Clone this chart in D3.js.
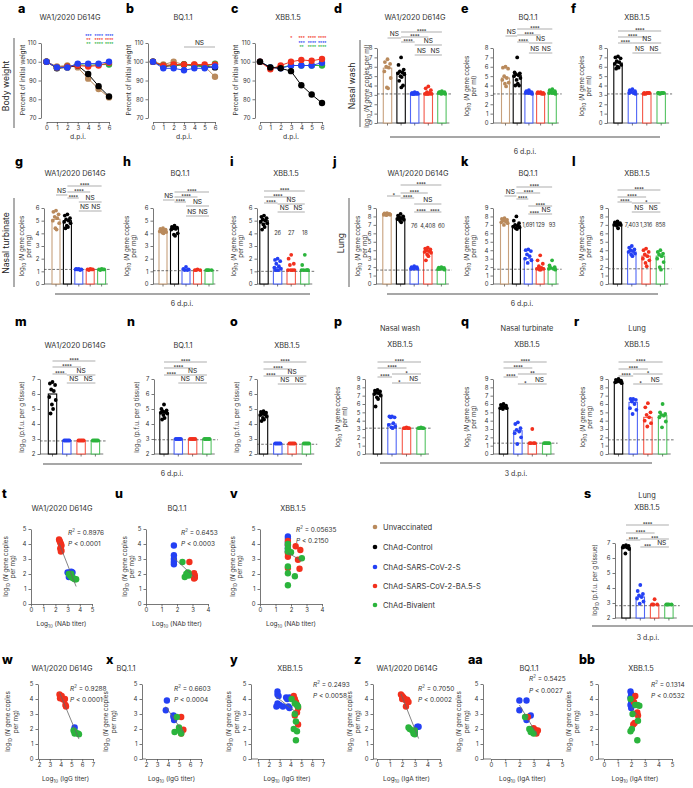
<!DOCTYPE html>
<html><head><meta charset="utf-8">
<script src="https://cdn.jsdelivr.net/npm/d3@7"></script>
<style>body{margin:0;background:#fff}svg{display:block}text{font-family:Inter,'DejaVu Sans',sans-serif}</style>
</head><body><svg id="c" width="693" height="788"></svg>
<script>
// ================= DATA =================
const groupNames = ['Unvaccinated','ChAd-Control','ChAd-SARS-CoV-2-S','ChAd-SARS-CoV-2-BA.5-S','ChAd-Bivalent'];
const groupColors = ['#b98a5c','#000000','#2440f4','#f2301d','#2bb43c'];
const days = [0,1,2,3,4,5,6];
const weightTicks = [70,80,90,100,110];

// body weight (% of initial), rows follow the group order given in *_groups
const weightA_groups = [0,1,4,3,2];
const weightA = [
  [100,97.5,98,97,91,85.5,81],
  [100,96.5,97,98,93.5,87,81.5],
  [100,97,97.5,98.5,98,98.5,98.5],
  [100,97,97.5,98,97.5,98,99.5],
  [100,97,97,99,99,99,100]
];
const weightB_groups = [0,1,4,3,2];
const weightB = [
  [100,98.5,100,98.5,98.5,97.5,92],
  [100,97.5,98,98.5,98,97.5,97],
  [100,98,98,98.5,98,97.5,99],
  [100,98,98.5,98.5,98.5,98.5,98.5],
  [100,96.5,96.5,95.5,96.5,96.5,97.5]
];
const weightC_groups = [4,2,3,1];
const weightC = [
  [100,97,97,98,98,98,98],
  [100,97,96.5,98,98,98,99.5],
  [100,96,98,100,101,100.5,101.5],
  [100,97,96.5,95,87.5,82.5,78]
];
const starsA_groups = [2,3,4];
const starsA = [['','','','','***','****','****'],['','','','','**','****','****'],['','','','','**','****','****']];
const starsC_groups = [3,2,4];
const starsC = [['','','','*','***','****','****'],['','','','','***','****','****'],['','','','','**','****','****']];

// bar + dot panels (log10 values)
const dMeans = [5.85,5.4,3.15,3.2,3.2];
const dPts = [[6.8,6.5,6.3,6.0,5.9,5.5,4.8,3.8,3.7],[7.0,6.2,5.7,5.5,5.4,5.3,5.2,5.0,4.9,4.5,4.0,3.8],[3.3,3.2,3.2,3.1,3.1,3.1,3.1,3.1,3.2,3.1],[3.9,3.7,3.5,3.3,3.2,3.1,3.1,3.1,3.1,3.1],[3.4,3.3,3.3,3.2,3.2,3.2,3.1,3.1,3.2,3.3]];
const dSig = [[0,1,'NS'],[1,4,'****'],[1,3,'****'],[1,2,'****'],[2,4,'NS'],[2,3,'NS'],[3,4,'NS']];
const eMeans = [4.8,5.1,3.3,3.2,3.3];
const ePts = [[6.0,5.9,5.8,5.0,4.8,4.6,4.3,4.2,3.9],[7.0,5.4,5.3,5.2,5.1,5.0,4.8,4.6,4.2,4.0,4.0],[3.5,3.4,3.3,3.3,3.2,3.2,3.1,3.2,3.3],[3.3,3.3,3.2,3.2,3.1,3.2,3.1],[3.6,3.5,3.4,3.3,3.2,3.2,3.1,3.2]];
const eSig = dSig;
const fMeans = [6.4,3.3,3.2,3.2];
const fPts = [[7.1,7.0,6.9,6.6,6.5,6.3,6.2,6.0,5.9,5.8],[3.6,3.5,3.4,3.3,3.2,3.2,3.1],[3.2,3.2,3.2,3.1,3.2,3.1],[3.2,3.2,3.2,3.1,3.2,3.2]];
const sig4 = [[0,3,'****'],[0,2,'****'],[0,1,'****'],[1,3,'NS'],[1,2,'NS'],[2,3,'NS']];

const gMeans = [5.1,5.0,1.15,1.15,1.15];
const gPts = [[5.8,5.7,5.5,5.3,5.2,5.0,4.8,4.4,4.3],[5.5,5.4,5.2,5.1,5.0,4.9,4.8,4.6,4.5,4.4],[1.2,1.2,1.15,1.15,1.1,1.15],[1.2,1.15,1.15,1.1,1.15],[1.2,1.15,1.15,1.1,1.15]];
const hMeans = [4.2,4.4,1.15,1.1,1.1];
const hPts = [[4.4,4.35,4.3,4.2,4.2,4.15,4.1,4.05,4.0],[4.6,4.5,4.45,4.4,4.35,4.3,4.0,3.9,3.8],[1.35,1.2,1.15,1.1,1.1],[1.15,1.1,1.1,1.1],[1.1,1.1,1.1,1.1]];
const iMeans = [5.0,1.3,1.1,1.1];
const iPts = [[5.4,5.3,5.2,5.1,5.0,4.9,4.8,4.7,4.5,4.3],[2.0,1.9,1.8,1.6,1.4,1.3,1.2,1.1,1.1,1.1],[2.3,2.0,1.6,1.5,1.1,1.1,1.1,1.1],[2.3,1.5,1.1,1.1,1.1,1.1,1.1]];
const iFold = ['26','27','18'];
const jMeans = [8.3,7.8,1.9,3.8,1.8];
const jPts = [[8.4,8.35,8.3,8.3,8.25,8.2,8.2,8.15],[8.3,8.1,8.0,7.9,7.8,7.7,7.6,7.5,7.3],[2.1,2.0,2.0,1.9,1.9,1.8,1.8,1.8],[4.3,4.2,4.1,4.0,3.9,3.8,3.7,3.5,3.3,2.8],[2.0,1.95,1.9,1.8,1.8,1.75,1.7]];
const jSig = [[0,1,'*'],[1,4,'****'],[1,3,'****'],[1,2,'****'],[2,4,'NS'],[2,3,'****'],[3,4,'****']];
const jFold = ['76','4,408','60'];
const kMeans = [7.4,6.9,3.0,1.9,1.9];
const kPts = [[7.8,7.7,7.6,7.5,7.4,7.3,7.2,7.0],[8.0,7.5,7.2,7.0,6.9,6.8,6.7,6.6,6.5],[4.1,4.0,3.9,3.5,3.3,3.0,2.8,2.5],[3.4,2.8,2.4,2.1,1.9,1.8,1.8,1.7,1.7],[2.8,2.2,2.0,1.9,1.8,1.8,1.7]];
const kSig = [[0,1,'NS'],[1,4,'****'],[1,3,'****'],[1,2,'****'],[2,4,'****'],[2,3,'****'],[3,4,'NS']];
const kFold = ['1,691','129','93'];
const lMeans = [7.1,3.8,3.3,3.3];
const lPts = [[7.4,7.3,7.2,7.1,7.1,7.0,7.0,6.9,6.6],[4.5,4.3,4.1,4.0,3.9,3.8,3.6,3.5,3.3],[4.2,4.0,3.8,3.5,3.3,3.0,2.8,2.5,2.1],[4.0,3.8,3.6,3.5,3.3,3.0,2.6,2.0,1.7]];
const lSig = [[0,3,'****'],[0,2,'****'],[0,1,'****'],[1,3,'*'],[1,2,'NS'],[2,3,'NS']];
const lFold = ['7,403','1,316','858'];

const mMeans = [6.0,2.9,2.9,2.9];
const mPts = [[6.8,6.7,6.6,6.3,6.2,5.8,5.6,5.3,5.0,4.7],[2.9,2.9,2.9,2.9,2.9],[2.9,2.9,2.9,2.9,2.9],[2.9,2.9,2.9,2.9,2.9]];
const nMeans = [4.75,3.0,3.0,3.0];
const nPts = [[5.3,5.0,4.9,4.85,4.8,4.75,4.7,4.6,4.4,4.3],[3.0,3.0,3.0,3.0,3.0],[3.0,3.0,3.0,3.0,3.0],[3.0,3.0,3.0,3.0,3.0]];
const oMeans = [4.6,2.7,2.7,2.7];
const oPts = [[4.85,4.8,4.75,4.7,4.65,4.6,4.5,4.4,4.3,4.2],[2.7,2.7,2.7,2.7,2.7],[2.7,2.7,2.7,2.7,2.7],[2.7,2.7,2.7,2.7,2.7]];
const pMeans = [7.2,3.6,3.1,3.1];
const pPts = [[7.7,7.6,7.5,7.4,7.3,7.2,7.0,6.8,6.6,5.7],[4.5,4.5,4.4,4.4,3.7,3.5,3.3,3.2,3.1],[3.2,3.1,3.1,3.1,3.1],[3.2,3.1,3.1,3.1,3.1]];
const pSig = [[0,3,'****'],[0,2,'****'],[0,1,'****'],[1,3,'*'],[1,2,'*'],[2,3,'NS']];
const qMeans = [5.6,2.8,1.3,1.3];
const qPts = [[6.0,5.9,5.8,5.7,5.6,5.5,5.5,5.4],[3.8,3.6,3.1,2.9,2.7,2.5,2.0,1.2],[3.0,1.3,1.3,1.3,1.3],[1.3,1.3,1.3,1.3,1.3]];
const qSig = [[0,3,'****'],[0,2,'****'],[0,1,'****'],[1,3,'**'],[1,2,'*'],[2,3,'NS']];
const rMeans = [8.7,6.2,4.4,4.6];
const rPts = [[9.0,8.9,8.8,8.7,8.7,8.6,8.5],[6.6,6.6,6.5,6.3,6.0,5.5,5.3,4.8],[6.1,5.6,5.0,4.7,4.4,4.0,3.7,3.3],[6.0,5.0,4.8,4.7,4.6,4.4,3.9,3.2]];
const rSig = [[0,3,'****'],[0,2,'****'],[0,1,'****'],[1,3,'*'],[1,2,'*'],[2,3,'NS']];
const sMeans = [6.7,3.4,2.9,2.9];
const sPts = [[6.85,6.8,6.8,6.75,6.7,6.7,6.6,6.3],[4.2,3.8,3.6,3.5,3.4,3.3,3.1,2.95],[3.25,2.9,2.9,2.9],[2.9,2.9,2.9,2.9]];
const sSig = [[0,3,'****'],[0,2,'****'],[0,1,'****'],[1,3,'***'],[1,2,'***'],[2,3,'NS']];

// correlation panels: [log10 titer, log10 N gene copies per mg]
const tBlue = [[3.0,2.1],[3.2,2.1],[3.3,2.15],[3.4,2.1],[3.1,1.8]];
const tRed = [[2.3,4.3],[2.35,4.2],[2.4,4.1],[2.45,4.0],[2.5,3.9],[2.4,3.7],[2.5,3.55],[2.45,3.5]];
const tGreen = [[3.1,2.0],[3.2,1.9],[3.3,1.8],[3.5,1.7],[3.6,1.65],[3.7,1.65],[3.4,1.75],[3.3,2.0]];
const uBlue = [[1.8,3.9],[1.8,3.25],[1.8,3.0],[1.8,2.8],[1.8,2.65]];
const uRed = [[2.8,2.8],[3.1,2.05],[3.15,1.9],[3.1,1.7],[3.15,1.75]];
const uGreen = [[2.35,2.8],[2.5,1.8],[2.6,2.0],[2.7,2.1],[2.75,1.9],[2.75,2.05]];
const vBlue = [[1.8,4.5],[1.8,4.35],[1.8,4.1],[1.8,3.9],[1.8,3.7],[1.8,3.5]];
const vRed = [[1.8,4.2],[1.8,3.95],[1.8,3.4],[1.8,3.15],[1.8,2.4],[2.3,3.85],[2.45,2.95],[2.6,3.6],[2.55,2.35]];
const vGreen = [[1.8,4.0],[1.8,3.7],[1.8,3.5],[1.8,2.5],[1.8,2.05],[1.8,1.25],[2.0,3.45],[2.25,1.85],[2.7,3.05]];
const wBlue = [[5.3,2.1],[5.25,1.95]];
const wRed = [[3.9,4.3],[4.0,4.1],[4.1,4.2],[4.2,4.0],[4.3,3.95],[4.4,4.0],[4.45,3.6],[4.5,3.5],[3.95,4.05]];
const wGreen = [[5.2,1.9],[5.3,1.8],[5.3,1.7],[5.6,1.7],[5.7,1.65],[5.4,1.75]];
const xBlue = [[3.9,3.9],[3.8,3.25],[4.5,2.9],[4.55,2.6],[4.5,2.8]];
const xRed = [[5.2,2.8],[5.0,2.0],[5.4,1.95],[5.2,1.7]];
const xGreen = [[4.8,2.8],[4.6,1.8],[5.0,2.1],[5.1,1.85],[5.2,1.7]];
const yBlue = [[2.8,4.5],[2.8,4.3],[2.9,4.2],[3.6,4.1],[3.7,4.0],[3.9,4.1],[2.8,3.7],[3.0,3.6],[3.8,3.5],[3.9,3.4],[2.7,3.5],[3.3,3.5]];
const yRed = [[4.3,4.2],[4.4,4.0],[4.5,3.8],[4.6,3.6],[4.7,3.4],[4.6,3.1],[4.7,2.3],[4.4,2.9]];
const yGreen = [[4.1,4.0],[4.4,3.7],[4.6,3.6],[4.7,3.5],[4.4,3.0],[4.5,2.5],[4.3,2.0],[4.6,1.85],[4.5,1.25]];
const zBlue = [[3.2,2.15],[3.3,2.15],[3.0,1.8]];
const zRed = [[1.9,4.3],[2.0,4.2],[2.1,4.1],[2.2,4.0],[2.3,3.9],[2.4,3.95],[2.5,3.8],[2.3,3.5],[2.0,4.0]];
const zGreen = [[2.5,2.1],[2.6,2.0],[2.8,1.9],[2.9,1.7],[3.0,1.65],[3.0,1.9]];
const aaBlue = [[2.0,3.9],[2.5,3.9],[2.0,3.25],[2.5,2.6],[2.8,2.9]];
const aaRed = [[2.6,2.8],[3.0,2.05],[3.1,1.95],[3.2,1.7],[3.3,1.9]];
const aaGreen = [[2.4,2.8],[2.7,2.0],[2.8,1.8],[3.0,1.7],[2.8,1.9]];
const bbBlue = [[1.95,4.5],[2.0,4.3],[1.95,4.1],[2.0,3.8],[1.95,3.6],[2.0,3.4]];
const bbRed = [[2.3,4.2],[2.2,3.8],[2.45,3.1],[2.5,2.9],[2.25,2.4],[2.15,2.3]];
const bbGreen = [[1.95,4.0],[2.3,3.6],[2.45,3.6],[2.6,3.55],[2.1,3.0],[2.5,2.55],[2.05,2.0],[1.95,1.85],[2.45,1.25]];
const statsR2 = {t:'0.8976',u:'0.6453',v:'0.05635',w:'0.9288',x:'0.6603',y:'0.2493',z:'0.7050',aa:'0.5425',bb:'0.1314'};
const statsP = {t:'0.0001',u:'0.0003',v:'0.2150',w:'0.0001',x:'0.0004',y:'0.0058',z:'0.0002',aa:'0.0027',bb:'0.0532'};

// ================= DRAWING =================
const svg = d3.select('#c');
svg.append('rect').attr('width',693).attr('height',788).attr('fill','#fff');
const FONT = "Inter, 'DejaVu Sans', sans-serif";
const AX = '#555', TX = '#333', BR = '#8a8a8a';
const fmtInt = d3.format('d');

function rich(t, str, size) {
  const parts = str.split(/(_\{[^}]*\}|\^\{[^}]*\}|\*[^*]+\*)/).filter(s => s.length);
  let cur = 0;
  parts.forEach(s => {
    let txt = s, off = 0, fs = size, it = false;
    if (s.startsWith('_{')) { txt = s.slice(2,-1); off = size*0.3; fs = size*0.68; }
    else if (s.startsWith('^{')) { txt = s.slice(2,-1); off = -size*0.4; fs = size*0.68; }
    else if (s.startsWith('*') && s.length > 2) { txt = s.slice(1,-1); it = true; }
    const ts = t.append('tspan').text(txt).attr('font-size', fs);
    if (off !== cur) ts.attr('dy', off - cur);
    if (it) ts.attr('font-style','italic');
    cur = off;
  });
}
function label(x, y, str, o = {}) {
  const size = o.size || 7;
  const t = svg.append('text').attr('x', x).attr('y', y)
    .attr('text-anchor', o.anchor || 'middle')
    .attr('dominant-baseline', o.base || 'central')
    .attr('font-size', size).attr('fill', o.fill || TX);
  if (o.weight) t.attr('font-weight', o.weight);
  if (o.rot) t.attr('transform', `rotate(-90,${x},${y})`);
  rich(t, str, size);
  return t;
}
function letter(x, y, s) { label(x, y, s, {size:12.5, weight:800, anchor:'start', base:'alphabetic', fill:'#000'}); }
function hline(x1, x2, y, c = BR, w = 1.4) { svg.append('line').attr('x1',x1).attr('x2',x2).attr('y1',y).attr('y2',y).attr('stroke',c).attr('stroke-width',w); }
function vline(x, y1, y2, c = BR, w = 1.4) { svg.append('line').attr('x1',x).attr('x2',x).attr('y1',y1).attr('y2',y2).attr('stroke',c).attr('stroke-width',w); }
function styleAxis(g, fs = 6) {
  g.attr('font-family', FONT).attr('font-size', fs);
  g.select('.domain').attr('stroke', AX).attr('stroke-width', 0.8);
  g.selectAll('.tick line').attr('stroke', AX).attr('stroke-width', 0.8);
  g.selectAll('.tick text').attr('fill', TX);
}
function ytitle(xs, cy, lines, size = 6.3) { lines.forEach((l, i) => label(xs[i], cy, l, {size, rot:true})); }

const jit = [0,-2.6,2.6,-1.3,1.3,-3.2,3.2,-0.6,0.6,-1.9,1.9,0.2];

function sigText(g, x, ly, s) {
  const star = s[0] === '*';
  g.append('text').attr('x', x).attr('y', star ? ly + 1 : ly - 1.6).attr('text-anchor','middle')
    .attr('font-size', star ? 5.4 : 6.6).attr('letter-spacing', star ? -0.35 : 0).attr('fill', '#222').text(s);
}

function barPanel(p, means, pts, sig, fold) {
  const n = p.groups.length;
  const y = d3.scaleLinear().domain(p.yDom).range([p.yBot, p.yTop]);
  const x = d3.scalePoint().domain(d3.range(n)).range([p.x0, p.x0 + p.step*(n-1)]);
  const bw = p.bw || 8.4;
  const g = svg.append('g');
  const ga = g.append('g').attr('transform', `translate(${p.axisX},0)`)
    .call(d3.axisLeft(y).tickValues(d3.range(p.yDom[0], p.yDom[1] + 0.01, 1)).tickSize(2.5).tickSizeOuter(0).tickPadding(2).tickFormat(fmtInt));
  styleAxis(ga);
  const xEnd = x(n-1) + p.step*0.55;
  g.append('line').attr('x1', p.axisX).attr('x2', xEnd).attr('y1', p.yBot).attr('y2', p.yBot).attr('stroke', AX).attr('stroke-width', 0.8);
  g.selectAll('line.xt').data(d3.range(n)).join('line').attr('class','xt')
    .attr('x1', i => x(i)).attr('x2', i => x(i)).attr('y1', p.yBot).attr('y2', p.yBot + 2.5)
    .attr('stroke', AX).attr('stroke-width', 0.8);
  g.selectAll('rect.bar').data(means).join('rect').attr('class','bar')
    .attr('x', (d,i) => x(i) - bw/2).attr('y', d => y(d)).attr('width', bw).attr('height', d => p.yBot - y(d))
    .attr('fill', '#fff').attr('stroke', (d,i) => groupColors[p.groups[i]]).attr('stroke-width', 1.1)
    .attr('stroke-opacity', (d,i) => p.groups[i] === 1 ? 1 : 0.8);
  g.append('line').attr('x1', p.axisX).attr('x2', xEnd + 3).attr('y1', y(p.lod)).attr('y2', y(p.lod))
    .attr('stroke', '#444').attr('stroke-width', 0.75).attr('stroke-dasharray', '2.6,1.6');
  pts.forEach((arr, i) => {
    g.selectAll(null).data(arr).join('circle')
      .attr('cx', (d,k) => x(i) + jit[k % jit.length]).attr('cy', d => y(d)).attr('r', 1.9)
      .attr('fill', groupColors[p.groups[i]]);
  });
  sig.forEach(([a, b, s], k) => {
    const ly = p.sigY[k];
    g.append('line').attr('x1', x(a)).attr('x2', x(b)).attr('y1', ly).attr('y2', ly).attr('stroke', BR).attr('stroke-width', 0.7);
    sigText(g, (x(a)+x(b))/2, ly, s);
  });
  if (fold) fold.forEach((s, k) => {
    const i = n - fold.length + k;
    g.append('text').attr('x', x(i)).attr('y', p.foldY).attr('text-anchor','middle').attr('dominant-baseline','central')
      .attr('font-size', 5.6).attr('letter-spacing', -0.15).attr('fill', TX).text(s);
  });
}

function linePanel(p, rows, rowGroups, stars, starGroups) {
  const x = d3.scaleLinear().domain([0,6]).range([p.x0, p.x6]);
  const y = d3.scaleLinear().domain([70,110]).range([p.y70, p.y110]);
  const g = svg.append('g');
  const gy = g.append('g').attr('transform', `translate(${p.axisX},0)`)
    .call(d3.axisLeft(y).tickValues(weightTicks).tickSize(2.5).tickSizeOuter(0).tickPadding(2).tickFormat(fmtInt));
  styleAxis(gy);
  const gx = g.append('g').attr('transform', `translate(0,${p.axisY})`)
    .call(d3.axisBottom(x).tickValues(days).tickSize(2.5).tickSizeOuter(0).tickPadding(1.5).tickFormat(fmtInt));
  styleAxis(gx);
  const line = d3.line().x((d,i) => x(days[i])).y(d => y(d));
  rows.forEach((vals, r) => {
    const c = groupColors[rowGroups[r]];
    g.append('path').datum(vals).attr('d', line).attr('fill','none').attr('stroke', c).attr('stroke-width', 1);
    g.selectAll(null).data(vals).join('circle').attr('cx', (d,i) => x(days[i])).attr('cy', d => y(d)).attr('r', 3.2).attr('fill', c);
  });
  if (stars) stars.forEach((marks, r) => {
    marks.forEach((m, i) => { if (m) g.append('text').attr('x', x(days[i])).attr('y', p.starY[r]).attr('text-anchor','middle')
      .attr('font-size', 4.6).attr('letter-spacing', -0.45).attr('font-weight', 700).attr('fill', groupColors[starGroups[r]]).text(m); });
  });
  return x;
}

function scatterPanel(p, sets, key) {
  const x = d3.scaleLinear().domain(p.xDom).range([p.xL, p.xR]);
  const y = d3.scaleLinear().domain([0,5]).range([p.yBot, p.yTop]);
  const g = svg.append('g');
  const yAxX = p.yAxX !== undefined ? p.yAxX : p.xL;
  const gy = g.append('g').attr('transform', `translate(${yAxX},0)`)
    .call(d3.axisLeft(y).tickValues([0,1,2,3,4,5]).tickSize(2.5).tickSizeOuter(0).tickPadding(2).tickFormat(fmtInt));
  styleAxis(gy);
  const gx = g.append('g').attr('transform', `translate(0,${p.yBot})`)
    .call(d3.axisBottom(x).tickValues(d3.range(p.xDom[0], p.xDom[1] + 0.01, 1)).tickSize(2.5).tickSizeOuter(0).tickPadding(1.5).tickFormat(fmtInt));
  styleAxis(gx);
  if (yAxX < p.xL) g.append('line').attr('x1', yAxX).attr('x2', p.xL).attr('y1', p.yBot).attr('y2', p.yBot).attr('stroke', AX).attr('stroke-width', 0.8);
  const all = sets.flatMap(s => s.pts);
  const mx = d3.mean(all, d => d[0]), my = d3.mean(all, d => d[1]);
  const slope = d3.sum(all, d => (d[0]-mx)*(d[1]-my)) / d3.sum(all, d => (d[0]-mx)**2);
  const [lo, hi] = d3.extent(all, d => d[0]);
  sets.forEach(s => {
    g.selectAll(null).data(s.pts).join('circle').attr('cx', d => x(d[0])).attr('cy', d => y(d[1])).attr('r', 3.2).attr('fill', groupColors[s.g]);
  });
  g.append('line').attr('x1', x(lo)).attr('x2', x(hi)).attr('y1', y(my + slope*(lo-mx))).attr('y2', y(my + slope*(hi-mx)))
    .attr('stroke', '#666').attr('stroke-width', 0.8);
  label(p.statX, p.statY[0], `*R*^{2} = ${statsR2[key]}`, {size:6.5, anchor:'start'});
  label(p.statX, p.statY[1], `*P* < ${statsP[key]}`, {size:6.5, anchor:'start'});
  label((yAxX + p.xR)/2, p.yBot + 20, p.xTitle, {size:6.5});
  ytitle(p.ytX, (p.yTop + p.yBot)/2, ['log_{10} (*N* gene copies', 'per mg)']);
}

// ---------- Row 1 ----------
const T1 = 7.4;
letter(18, 13, 'a'); letter(126, 13, 'b'); letter(231, 13, 'c');
letter(334, 13, 'd'); letter(461, 13, 'e'); letter(571, 13, 'f');
label(70, 17, 'WA1/2020 D614G', {size:T1}); label(183, 17, 'BQ.1.1', {size:T1}); label(288, 17, 'XBB.1.5', {size:T1});
label(415, 17, 'WA1/2020 D614G', {size:T1}); label(528, 17, 'BQ.1.1', {size:T1}); label(637, 17, 'XBB.1.5', {size:T1});
label(6, 86, 'Body weight', {size:8.6, rot:true, fill:'#222'}); vline(14, 38, 128);
label(352, 86, 'Nasal wash', {size:8.6, rot:true, fill:'#222'}); vline(360, 40, 127);

const rowLine = {y70:118, y110:43, axisY:122};
linePanel({...rowLine, axisX:41, x0:46.5, x6:109, starY:[38,42,46]}, weightA, weightA_groups, starsA, starsA_groups);
const xb = linePanel({...rowLine, axisX:148, x0:153, x6:215}, weightB, weightB_groups);
hline(xb(3), xb(6), 47, BR, 0.7);
sigText(svg, (xb(3)+xb(6))/2, 47, 'NS');
linePanel({...rowLine, axisX:255, x0:260, x6:322, starY:[40,44.5,49]}, weightC, weightC_groups, starsC, starsC_groups);
[23, 129, 236].forEach(xx => label(xx, 80, 'Percent of initial weight', {size:6.4, rot:true}));
[78, 184, 291].forEach(xx => label(xx, 136, 'd.p.i.', {size:6.8}));

barPanel({groups:[0,1,2,3,4], axisX:377, x0:387.5, step:13.6, yDom:[0,8], yTop:48, yBot:123, lod:3.1, sigY:[38,32,37,42,45,55,55]}, dMeans, dPts, dSig);
barPanel({groups:[0,1,2,3,4], axisX:493, x0:505.5, step:11.7, yDom:[0,8], yTop:48, yBot:123, lod:3.1, bw:8, sigY:[36,29,35,42,43,53,53]}, eMeans, ePts, eSig);
barPanel({groups:[1,2,3,4], axisX:607, x0:618, step:14.4, yDom:[0,8], yTop:48, yBot:123, lod:3.1, sigY:[31,37,43,43,53,53]}, fMeans, fPts, sig4);
ytitle([367], 86, ['log_{10} (*N* gene copies per ml)']);
ytitle([467, 474], 86, ['log_{10} (*N* gene copies', 'per ml)']);
ytitle([582, 589], 86, ['log_{10} (*N* gene copies', 'per ml)']);
hline(390, 660, 137); label(525, 151, '6 d.p.i.', {size:7});

// ---------- Row 2 ----------
letter(15, 166, 'g'); letter(123, 166, 'h'); letter(230, 166, 'i');
letter(333, 166, 'j'); letter(461, 166, 'k'); letter(572, 166, 'l');
label(75, 173, 'WA1/2020 D614G', {size:T1}); label(180, 173, 'BQ.1.1', {size:T1}); label(286, 173, 'XBB.1.5', {size:T1});
label(418, 173, 'WA1/2020 D614G', {size:T1}); label(528, 173, 'BQ.1.1', {size:T1}); label(637, 173, 'XBB.1.5', {size:T1});
label(6, 243, 'Nasal turbinate', {size:8.6, rot:true, fill:'#222'}); vline(14, 198, 287);
label(341, 243, 'Lung', {size:8.6, rot:true, fill:'#222'}); vline(349, 198, 287);
const r2 = {yTop:208, yBot:284};
barPanel({...r2, groups:[0,1,2,3,4], axisX:44, x0:56, step:11.4, bw:8, yDom:[0,6], lod:1.15, sigY:[195,186,192,198,202,211,211]}, gMeans, gPts, dSig);
barPanel({...r2, groups:[0,1,2,3,4], axisX:153, x0:163, step:11.5, bw:8, yDom:[0,6], lod:1.05, sigY:[200,192,197,202,206,216,216]}, hMeans, hPts, dSig);
barPanel({...r2, groups:[1,2,3,4], axisX:257, x0:264, step:13.6, yDom:[0,6], lod:1.0, sigY:[191,197,203,204,212,212], foldY:233}, iMeans, iPts, sig4, iFold);
barPanel({...r2, groups:[0,1,2,3,4], axisX:376, x0:387, step:13.6, yDom:[0,9], lod:1.65, sigY:[196,185,193,198,204,212,212], foldY:226}, jMeans, jPts, jSig, jFold);
barPanel({...r2, groups:[0,1,2,3,4], axisX:493, x0:504.5, step:11.9, bw:8, yDom:[0,9], lod:1.75, sigY:[196,187,193,199,206,214,214], foldY:225}, kMeans, kPts, kSig, kFold);
barPanel({...r2, groups:[1,2,3,4], axisX:608, x0:617.5, step:14.3, yDom:[0,9], lod:1.8, sigY:[190,197,202,203,212,212], foldY:225}, lMeans, lPts, lSig, lFold);
ytitle([22, 29], 246, ['log_{10} (*N* gene copies', 'per mg)']);
ytitle([127, 134], 246, ['log_{10} (*N* gene copies', 'per mg)']);
ytitle([234, 241], 246, ['log_{10} (*N* gene copies', 'per mg)']);
ytitle([358, 365], 246, ['log_{10} (*N* gene copies', 'per mg)']);
ytitle([467, 474], 246, ['log_{10} (*N* gene copies', 'per mg)']);
ytitle([582, 589], 246, ['log_{10} (*N* gene copies', 'per mg)']);
hline(55, 310, 294); label(182, 303, '6 d.p.i.', {size:7});
hline(387, 658, 294); label(522, 303, '6 d.p.i.', {size:7});

// ---------- Row 3 ----------
letter(15, 326, 'm'); letter(127, 326, 'n'); letter(230, 326, 'o');
letter(334, 326, 'p'); letter(461, 326, 'q'); letter(574, 326, 'r');
label(75, 345, 'WA1/2020 D614G', {size:T1}); label(183, 345, 'BQ.1.1', {size:T1}); label(287, 345, 'XBB.1.5', {size:T1});
label(400, 328, 'Nasal wash', {size:T1}); label(400, 344, 'XBB.1.5', {size:T1});
label(527, 328, 'Nasal turbinate', {size:T1}); label(527, 344, 'XBB.1.5', {size:T1});
label(637, 328, 'Lung', {size:T1}); label(637, 344, 'XBB.1.5', {size:T1});
const r3 = {yTop:379, yBot:454, groups:[1,2,3,4]};
barPanel({...r3, axisX:40, x0:52.5, step:14.3, yDom:[2,7], lod:2.87, sigY:[361,367,374,375,383,383]}, mMeans, mPts, sig4);
barPanel({...r3, axisX:154, x0:164, step:14.3, yDom:[2,7], lod:2.95, sigY:[362,368,375,375,383,383]}, nMeans, nPts, sig4);
barPanel({...r3, axisX:257, x0:263.5, step:14.3, yDom:[2,7], lod:2.65, sigY:[362,369,376,376,384,384]}, oMeans, oPts, sig4);
barPanel({...r3, axisX:365, x0:377.5, step:14.5, yDom:[0,9], lod:3.1, sigY:[362,368,377,374,383,383]}, pMeans, pPts, pSig);
barPanel({...r3, axisX:493, x0:503.5, step:14.4, yDom:[0,9], lod:1.3, sigY:[362,368,377,374,384,384]}, qMeans, qPts, qSig);
barPanel({...r3, axisX:608, x0:618.5, step:14.7, yDom:[0,9], lod:1.7, sigY:[362,369,376,374,384,384]}, rMeans, rPts, rSig);
ytitle([22], 417, ['log_{10} (p.f.u. per g tissue)']);
ytitle([137], 417, ['log_{10} (p.f.u. per g tissue)']);
ytitle([237], 417, ['log_{10} (p.f.u. per g tissue)']);
ytitle([338, 345], 417, ['log_{10} (*N* gene copies', 'per ml)']);
ytitle([467, 474], 417, ['log_{10} (*N* gene copies', 'per mg)']);
ytitle([583, 590], 417, ['log_{10} (*N* gene copies', 'per mg)']);
hline(43, 302, 464); label(172, 473, '6 d.p.i.', {size:7});
hline(380, 652, 463); label(516, 473, '3 d.p.i.', {size:7});

// ---------- Row 4 ----------
letter(2, 498, 't'); letter(115, 498, 'u'); letter(230, 498, 'v'); letter(584, 498, 's');
label(62, 508, 'WA1/2020 D614G', {size:T1}); label(177, 508, 'BQ.1.1', {size:T1}); label(293, 508, 'XBB.1.5', {size:T1});
const r4 = {yTop:529, yBot:604, xTitle:'Log_{10} (NAb titer)', statY:[533,544]};
scatterPanel({...r4, xDom:[0,5], xL:31, xR:92, statX:68, ytX:[6,13]}, [{g:2,pts:tBlue},{g:3,pts:tRed},{g:4,pts:tGreen}], 't');
scatterPanel({...r4, xDom:[0,4], xL:146, xR:208, statX:181, ytX:[125,132]}, [{g:2,pts:uBlue},{g:3,pts:uRed},{g:4,pts:uGreen}], 'u');
scatterPanel({...r4, xDom:[0,4], xL:260, xR:322, statX:296, statY:[530,541], ytX:[233,240]}, [{g:2,pts:vBlue},{g:3,pts:vRed},{g:4,pts:vGreen}], 'v');

const legY = [527,547,567,586,605];
groupNames.forEach((nm, i) => {
  svg.append('circle').attr('cx', 375).attr('cy', legY[i]).attr('r', 2.3).attr('fill', groupColors[i]);
  label(383, legY[i], nm, {size:7.6, anchor:'start'});
});

label(647, 495, 'Lung', {size:T1}); label(647, 507, 'XBB.1.5', {size:T1});
barPanel({groups:[1,2,3,4], axisX:615, x0:626, step:14.3, yDom:[2,7], yTop:543, yBot:618, lod:2.82, sigY:[525,533,540,539,547,547]}, sMeans, sPts, sSig);
ytitle([595], 580, ['log_{10} (p.f.u. per g tissue)']);
hline(592, 693, 626); label(648, 637, '3 d.p.i.', {size:7});

// ---------- Row 5 ----------
letter(2, 664, 'w'); letter(106, 664, 'x'); letter(230, 664, 'y'); letter(354, 664, 'z'); letter(468, 664, 'aa'); letter(579, 664, 'bb');
label(62, 668, 'WA1/2020 D614G', {size:T1}); label(126, 668, 'BQ.1.1', {size:T1}); label(290, 668, 'XBB.1.5', {size:T1});
label(407, 668, 'WA1/2020 D614G', {size:T1}); label(529, 668, 'BQ.1.1', {size:T1}); label(641, 668, 'XBB.1.5', {size:T1});
const r5 = {yTop:684, yBot:759};
const ig = 'Log_{10} (IgG titer)', ia = 'Log_{10} (IgA titer)';
scatterPanel({...r5, xDom:[2,7], xL:39, xR:93, yAxX:38, xTitle:ig, statX:70, statY:[689,700], ytX:[8,16]}, [{g:2,pts:wBlue},{g:3,pts:wRed},{g:4,pts:wGreen}], 'w');
scatterPanel({...r5, xDom:[2,7], xL:146, xR:201, yAxX:142, xTitle:ig, statX:174, statY:[689,700], ytX:[106,114]}, [{g:2,pts:xBlue},{g:3,pts:xRed},{g:4,pts:xGreen}], 'x');
scatterPanel({...r5, xDom:[1,7], xL:258, xR:323, yAxX:251, xTitle:ig, statX:313, statY:[685,696], ytX:[229,237]}, [{g:2,pts:yBlue},{g:3,pts:yRed},{g:4,pts:yGreen}], 'y');
scatterPanel({...r5, xDom:[0,5], xL:377, xR:440, yAxX:373, xTitle:ia, statX:418, statY:[689,700], ytX:[350,358]}, [{g:2,pts:zBlue},{g:3,pts:zRed},{g:4,pts:zGreen}], 'z');
scatterPanel({...r5, xDom:[0,5], xL:491, xR:562, yAxX:483, xTitle:ia, statX:529, statY:[679,691], ytX:[459,467]}, [{g:2,pts:aaBlue},{g:3,pts:aaRed},{g:4,pts:aaGreen}], 'aa');
scatterPanel({...r5, xDom:[0,5], xL:604, xR:672, yAxX:598, xTitle:ia, statX:651, statY:[685,696], ytX:[569,577]}, [{g:2,pts:bbBlue},{g:3,pts:bbRed},{g:4,pts:bbGreen}], 'bb');
</script></body></html>
